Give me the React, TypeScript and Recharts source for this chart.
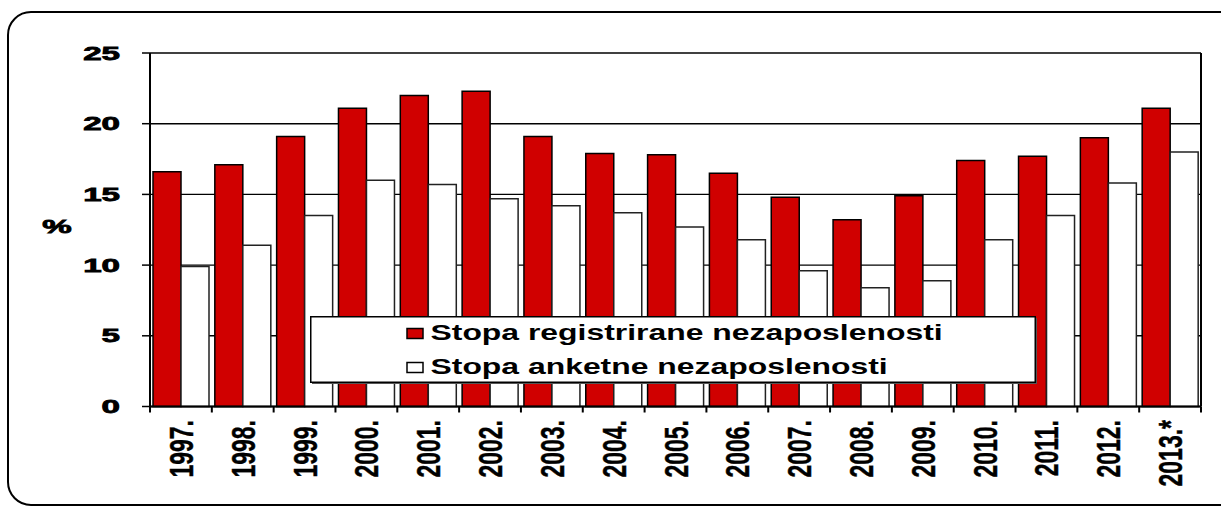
import React from 'react';
import { BarChart, Bar, XAxis, YAxis, CartesianGrid, Legend } from 'recharts';

const categories = ['1997.', '1998.', '1999.', '2000.', '2001.', '2002.', '2003.', '2004.', '2005.', '2006.', '2007.', '2008.', '2009.', '2010.', '2011.', '2012.', '2013.*'];
const registrirana = [16.6, 17.1, 19.1, 21.1, 22.0, 22.3, 19.1, 17.9, 17.8, 16.5, 14.8, 13.2, 14.9, 17.4, 17.7, 19.0, 21.1];
const anketna = [9.9, 11.4, 13.5, 16.0, 15.7, 14.7, 14.2, 13.7, 12.7, 11.8, 9.6, 8.4, 8.9, 11.8, 13.5, 15.8, 18.0];
const yTicks = [0, 5, 10, 15, 20, 25];
const seriesNames = ['Stopa registrirane nezaposlenosti', 'Stopa anketne nezaposlenosti'];
const yLabel = '%';

const data = categories.map((c, i) => ({ year: c, reg: registrirana[i], ank: anketna[i] }));

const W = 1221;
const H = 507;
const PLOT_LEFT = 150;
const PLOT_RIGHT = 1201;
const PLOT_TOP = 53;
const PLOT_BOTTOM = 406.5;
const FONT = '"Liberation Sans", Arial, sans-serif';

const YTick = (props: any) => {
  const { y, payload } = props;
  return (
    <text
      transform={`translate(120, ${y + 6.6}) scale(1.78, 1)`}
      textAnchor="end"
      fontFamily={FONT}
      fontWeight="bold"
      fontSize={18.6}
      fill="#000"
      stroke="#000"
      strokeWidth={0.8}
    >
      {payload.value}
    </text>
  );
};

const XTick = (props: any) => {
  const { x, payload, index } = props;
  const band = (PLOT_RIGHT - PLOT_LEFT) / categories.length;
  const left = x - band / 2;
  const right = x + band / 2;
  return (
    <g>
      <line x1={left} y1={PLOT_BOTTOM} x2={left} y2={PLOT_BOTTOM + 6} stroke="#000" strokeWidth={2} />
      {index === categories.length - 1 && (
        <line x1={right} y1={PLOT_BOTTOM} x2={right} y2={PLOT_BOTTOM + 6} stroke="#000" strokeWidth={2} />
      )}
      <text
        transform={`translate(${x + 12}, 420) scale(1.46, 1) rotate(-90)`}
        textAnchor="end"
        fontFamily={FONT}
        fontWeight="bold"
        fontSize={23}
        fill="#000"
        stroke="#000"
        strokeWidth={0.3}
      >
        {payload.value}
      </text>
    </g>
  );
};

const LegendBox = (props: any) => {
  const payload = [...(props.payload || [])].sort(
    (a: any, b: any) => seriesNames.indexOf(a.value) - seriesNames.indexOf(b.value)
  );
  return (
    <svg width={728} height={69} style={{ display: 'block' }}>
      <rect x={2} y={2} width={725} height={66} fill="#555" />
      <rect x={0.75} y={0.75} width={724.5} height={65.5} fill="#fff" stroke="#000" strokeWidth={1.5} />
      {payload.map((entry: any, i: number) => {
        const sqY = i === 0 ? 12.5 : 46.5;
        const base = i === 0 ? 23.5 : 57.8;
        return (
          <g key={i}>
            <rect x={97} y={sqY} width={16} height={10} fill={entry.color} stroke="#000" strokeWidth={1.5} />
            <text
              transform={`translate(120.5, ${base}) scale(1.45, 1)`}
              fontFamily={FONT}
              fontWeight="bold"
              fontSize={22}
              fill="#000"
            >
              {entry.value}
            </text>
          </g>
        );
      })}
    </svg>
  );
};

const PercentLabel = () => (
  <text
    transform={`translate(57, 232.5) scale(1.78, 1)`}
    textAnchor="middle"
    fontFamily={FONT}
    fontWeight="bold"
    fontSize={18.6}
    fill="#000"
    stroke="#000"
    strokeWidth={0.8}
  >
    {yLabel}
  </text>
);

export default function App() {
  return (
    <div style={{ position: 'absolute', left: 0, top: 0, width: W, height: H, overflow: 'hidden', background: '#fff' }}>
      <div
        style={{
          position: 'absolute',
          left: 7,
          top: 11,
          width: 1300,
          height: 495,
          border: '2px solid #000',
          borderRadius: 24,
          boxSizing: 'border-box',
        }}
      />
      <div style={{ position: 'absolute', left: 0, top: 0 }}>
        <BarChart
          width={W}
          height={H}
          data={data}
          margin={{ top: PLOT_TOP, right: 0, bottom: 0, left: 0 }}
          barGap={0}
          barSize={28}
        >
          <CartesianGrid horizontal vertical={false} stroke="#000" strokeWidth={1.4} yAxisId="left" />
          <XAxis
            dataKey="year"
            height={H - PLOT_BOTTOM}
            interval={0}
            tickLine={false}
            axisLine={{ stroke: '#000', strokeWidth: 2 }}
            tick={<XTick />}
          />
          <YAxis
            yAxisId="left"
            width={PLOT_LEFT}
            domain={[0, 25]}
            ticks={yTicks}
            interval={0}
            tickSize={8}
            tickLine={{ stroke: '#000', strokeWidth: 1.5 }}
            axisLine={{ stroke: '#000', strokeWidth: 2 }}
            tick={<YTick />}
            label={<PercentLabel />}
          />
          <YAxis
            yAxisId="right"
            orientation="right"
            width={W - PLOT_RIGHT}
            domain={[0, 25]}
            ticks={yTicks}
            tick={false}
            tickLine={false}
            axisLine={{ stroke: '#000', strokeWidth: 2 }}
          />
          <Bar yAxisId="left" dataKey="reg" name={seriesNames[0]} fill="#D00000" stroke="#000" strokeWidth={1.5} isAnimationActive={false} />
          <Bar yAxisId="left" dataKey="ank" name={seriesNames[1]} fill="#FFFFFF" stroke="#222" strokeWidth={1.5} isAnimationActive={false} />
          <Legend
            layout="horizontal"
            verticalAlign="middle"
            align="center"
            content={<LegendBox />}
            wrapperStyle={{ left: 309.5, top: 315.5, width: 728, height: 69 }}
          />
        </BarChart>
      </div>
    </div>
  );
}
